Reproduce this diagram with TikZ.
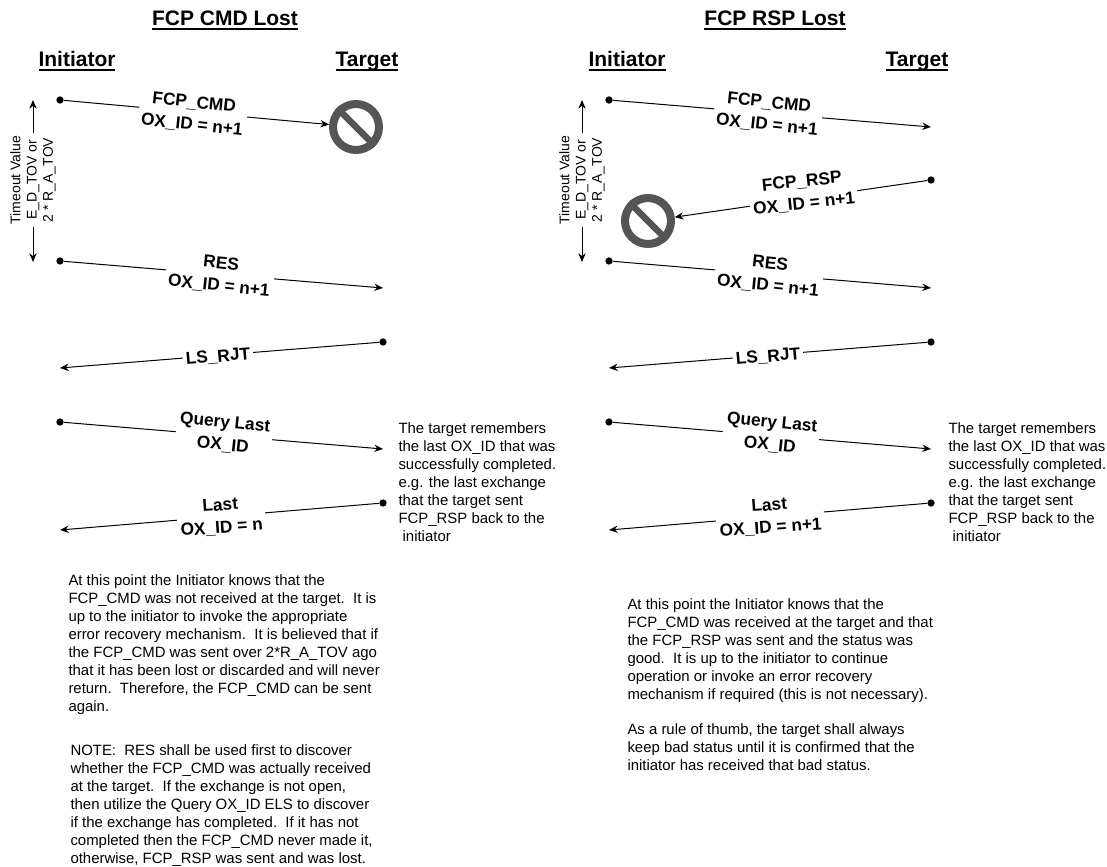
\documentclass[tikz,border=0pt]{standalone}
\usepackage{fontspec}
\setmainfont{Liberation Sans}
\usepackage{tikz}
\usetikzlibrary{arrows.meta}
\definecolor{StopGray}{RGB}{85,85,85}
\newcommand{\headrule}[1]{\sbox0{#1}\rlap{\rule[-2.8pt]{\wd0}{1.4pt}}\usebox0}
\tikzset{
	headtext/.style={anchor=base,inner sep=0pt,font=\bfseries\fontsize{15.75}{18}\selectfont},
	msgtext/.style={fill=white,inner sep=2.2pt,align=center,font=\bfseries\fontsize{13}{16.8}\selectfont},
	sidetext/.style={anchor=north west,inner sep=0pt,align=left,font=\fontsize{11.2}{13.5}\selectfont},
	timertext/.style={fill=white,inner sep=2pt,align=center,rotate=90,font=\fontsize{10.5}{12.2}\selectfont},
	msgdot/.style={circle,fill=black,inner sep=0pt,minimum size=5.5pt},
	stopsign/.style={circle,draw=StopGray,line width=6pt,inner sep=0pt,minimum size=34.5pt},
	stopbar/.style={draw=StopGray,line width=5pt}
}

\begin{document}
\begin{tikzpicture}[x=0.75pt,y=-0.75pt,line width=0.75pt,>={Stealth[length=6.5pt,width=5.5pt]}]
\useasboundingbox (0,0) rectangle (1107,867);

% left panel
\node[headtext] at (225,26) {\headrule{FCP CMD Lost}};
\node[headtext] at (77,67) {\headrule{Initiator}};
\node[headtext] at (367,67) {\headrule{Target}};

\node[stopsign] (stopcmd) at (356,127) {};
\draw[stopbar] (stopcmd.135) -- (stopcmd.-45);

\node[msgdot] (cmdi) at (60,100) {};
\node[msgdot] (resi) at (60,261) {};
\node[msgdot] (rjtt) at (383,342) {};
\node[msgdot] (qryi) at (60,422) {};
\node[msgdot] (lastt) at (383,503) {};
\coordinate (rest) at (383,288);
\coordinate (rjti) at (60,368);
\coordinate (qryt) at (383,449);
\coordinate (lasti) at (60,530);
\coordinate (timera) at (33,100);
\coordinate (timerb) at (33,262);

\draw[->] (cmdi) -- (stopcmd);
\draw[->] (resi) -- (rest);
\draw[->] (rjtt) -- (rjti);
\draw[->] (qryi) -- (qryt);
\draw[->] (lastt) -- (lasti);
\draw[<->] (timera) -- (timerb);

\node[msgtext,rotate=-6] at (193,114) {FCP\_CMD\\OX\_ID = n+1};
\node[msgtext,rotate=-6] at (220,275) {RES\\OX\_ID = n+1};
\node[msgtext,rotate=5] at (218,357) {LS\_RJT};
\node[msgtext,rotate=-6] at (224,434) {Query Last\\OX\_ID};
\node[msgtext,rotate=4] at (221,517) {Last\\OX\_ID = n};
\node[timertext] at (33,180) {Timeout Value\\E\_D\_TOV or\\2 * R\_A\_TOV};

\node[sidetext] at (398,422) {The target remembers\\the last OX\_ID that was\\successfully completed.\\e.g. the last exchange\\that the target sent\\FCP\_RSP back to the\\\ initiator};
\node[sidetext] at (68,574) {At this point the Initiator knows that the\\FCP\_CMD was not received at the target.\ \ It is\\up to the initiator to invoke the appropriate\\error recovery mechanism.\ \ It is believed that if\\the FCP\_CMD was sent over 2*R\_A\_TOV ago\\that it has been lost or discarded and will never\\return.\ \ Therefore, the FCP\_CMD can be sent\\again.};
\node[sidetext] at (70,744.5) {NOTE:\ \ RES shall be used first to discover\\whether the FCP\_CMD was actually received\\at the target.\ \ If the exchange is not open,\\then utilize the Query OX\_ID ELS to discover\\if the exchange has completed.\ \ If it has not\\completed then the FCP\_CMD never made it,\\otherwise, FCP\_RSP was sent and was lost.};

% right panel
\node[headtext] at (775,26) {\headrule{FCP RSP Lost}};
\node[headtext] at (627,67) {\headrule{Initiator}};
\node[headtext] at (917,67) {\headrule{Target}};

\node[stopsign] (stoprsp) at (648,221) {};
\draw[stopbar] (stoprsp.135) -- (stoprsp.-45);

\node[msgdot] (cmdir) at (609,100) {};
\node[msgdot] (rsptr) at (931,180) {};
\node[msgdot] (resir) at (609,261) {};
\node[msgdot] (rjttr) at (931,342) {};
\node[msgdot] (qryir) at (609,422) {};
\node[msgdot] (lasttr) at (931,503) {};
\coordinate (cmdtr) at (931,127);
\coordinate (restr) at (931,288);
\coordinate (rjtir) at (609,368);
\coordinate (qrytr) at (931,449);
\coordinate (lastir) at (609,530);
\coordinate (timerc) at (582,100);
\coordinate (timerd) at (582,262);

\draw[->] (cmdir) -- (cmdtr);
\draw[->] (rsptr) -- (stoprsp);
\draw[->] (resir) -- (restr);
\draw[->] (rjttr) -- (rjtir);
\draw[->] (qryir) -- (qrytr);
\draw[->] (lasttr) -- (lastir);
\draw[<->] (timerc) -- (timerd);

\node[msgtext,rotate=-6] at (768,114) {FCP\_CMD\\OX\_ID = n+1};
\node[msgtext,rotate=6] at (803,193) {FCP\_RSP\\OX\_ID = n+1};
\node[msgtext,rotate=-6] at (769,275) {RES\\OX\_ID = n+1};
\node[msgtext,rotate=5] at (768,357) {LS\_RJT};
\node[msgtext,rotate=-6] at (771,434) {Query Last\\OX\_ID};
\node[msgtext,rotate=4] at (770,517) {Last\\OX\_ID = n+1};
\node[timertext] at (582,180) {Timeout Value\\E\_D\_TOV or\\2 * R\_A\_TOV};

\node[sidetext] at (948,422) {The target remembers\\the last OX\_ID that was\\successfully completed.\\e.g. the last exchange\\that the target sent\\FCP\_RSP back to the\\\ initiator};
\node[sidetext] at (627,598) {At this point the Initiator knows that the\\FCP\_CMD was received at the target and that\\the FCP\_RSP was sent and the status was\\good.\ \ It is up to the initiator to continue\\operation or invoke an error recovery\\mechanism if required (this is not necessary).};
\node[sidetext] at (627,723) {As a rule of thumb, the target shall always\\keep bad status until it is confirmed that the\\initiator has received that bad status.};

\end{tikzpicture}
\end{document}
